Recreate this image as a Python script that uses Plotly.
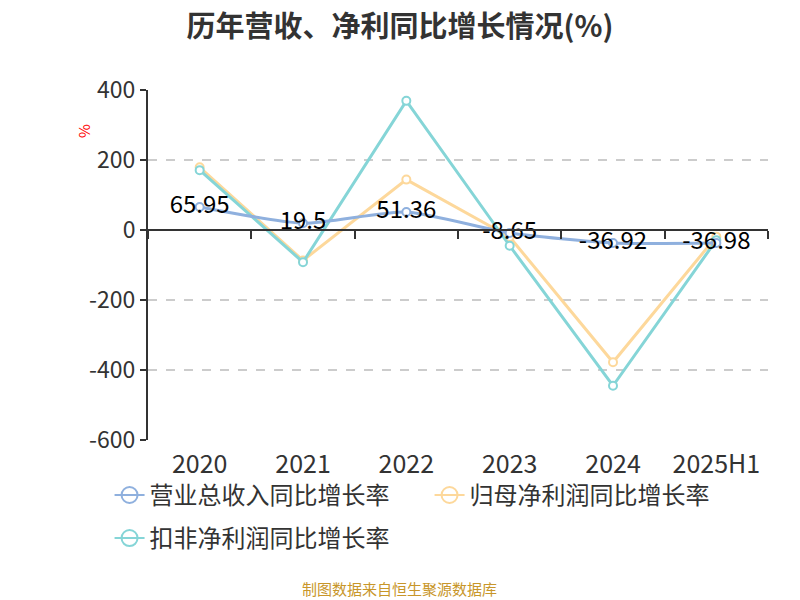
import plotly.graph_objects as go

# categories and series (% year over year)
years = ['2020', '2021', '2022', '2023', '2024', '2025H1']
revenue_growth = [65.95, 19.5, 51.36, -8.65, -36.92, -36.98]
net_profit_growth = [179, -87, 144, -20, -378, -19]
deducted_profit_growth = [171, -92, 369, -45, -445, -29]

series_names = ['营业总收入同比增长率', '归母净利润同比增长率', '扣非净利润同比增长率']
colors = ['#8fb0de', '#fdd89b', '#85d5d7']

y_ticks = [-600, -400, -200, 0, 200, 400]

CJK = 'Noto Sans CJK SC'

fig = go.Figure()

# net profit and deducted profit first so the revenue line sits on top
for vals, name, col in [(net_profit_growth, series_names[1], colors[1]),
                        (deducted_profit_growth, series_names[2], colors[2])]:
    fig.add_trace(go.Scatter(
        x=years, y=vals, mode='lines+markers', name=name,
        legendgroup=name, showlegend=False,
        line=dict(color=col, width=3),
        marker=dict(symbol='circle', size=8, color='white',
                    line=dict(color=col, width=2)),
    ))

fig.add_trace(go.Scatter(
    x=years, y=revenue_growth, mode='lines+markers+text', name=series_names[0],
    legendgroup=series_names[0], showlegend=False,
    line=dict(color=colors[0], width=3, shape='spline', smoothing=0.6),
    marker=dict(symbol='circle', size=8, color='white',
                line=dict(color=colors[0], width=2)),
    text=[f'{v:g}' for v in revenue_growth],
    textposition='middle center',
    textfont=dict(family=CJK, size=24, color='#000000'),
))

# legend-only entries with the bigger hollow circles (third one on its own row)
for i, (name, col) in enumerate(zip(series_names, colors)):
    fig.add_trace(go.Scatter(
        x=[None], y=[None], mode='lines+markers', name=name,
        legendgroup=name, legend='legend2' if i == 2 else 'legend',
        line=dict(color=col, width=2),
        marker=dict(symbol='circle-open', size=20, color=col,
                    line=dict(color=col, width=2)),
    ))

# axis line at zero with ticks between categories
fig.add_trace(go.Scatter(x=years, y=[None] * len(years), xaxis='x2',
                         showlegend=False, hoverinfo='skip'))

legend_style = dict(orientation='h', xanchor='left', yanchor='top',
                    font=dict(family=CJK, size=24, color='#333333'),
                    entrywidth=275, itemsizing='trace', bgcolor='rgba(0,0,0,0)')

# page body has an 8px margin, so the figure is drawn 8px smaller
fig.update_layout(
    width=792, height=592,
    paper_bgcolor='white', plot_bgcolor='white',
    margin=dict(l=140, r=32, t=82, b=160, autoexpand=False),
    title=dict(text='<b>历年营收、净利同比增长情况(%)</b>', x=0.495, xanchor='center',
               y=0.968, yanchor='middle',
               font=dict(family=CJK, size=29, color='#333333')),
    font=dict(family=CJK, color='#333333'),
    showlegend=True,
    legend=dict(x=-0.062, y=-0.094, **legend_style),
    legend2=dict(x=-0.062, y=-0.217, **legend_style),
    xaxis=dict(type='category', range=[-0.5, len(years) - 0.5],
               showline=False, showgrid=False, zeroline=False,
               ticks='', tickfont=dict(family=CJK, size=25, color='#333333'),
               ticklabelstandoff=7),
    xaxis2=dict(type='category', overlaying='x', matches='x', anchor='free',
                position=0.6, showline=True, linecolor='#333333', linewidth=2,
                ticks='outside', tickson='boundaries', ticklen=8, tickwidth=2,
                tickcolor='#333333', showticklabels=False, showgrid=False,
                side='bottom'),
    yaxis=dict(range=[-600, 400], tickvals=y_ticks,
               ticktext=[str(v) for v in y_ticks],
               showline=True, linecolor='#333333', linewidth=2,
               ticks='outside', ticklen=6, tickwidth=2, tickcolor='#333333',
               showgrid=True, gridcolor='#cccccc', griddash='dash', gridwidth=1.5,
               zeroline=False,
               tickfont=dict(family=CJK, size=23, color='#333333')),
    annotations=[
        dict(text='%', xref='paper', yref='paper', x=-0.123, y=0.909,
             showarrow=False, textangle=-90,
             font=dict(family=CJK, size=15, color='#ff0000')),
        dict(text='制图数据来自恒生聚源数据库', xref='paper', yref='paper',
             x=0.406, y=-0.423, showarrow=False, xanchor='center', yanchor='middle',
             font=dict(family=CJK, size=15, color='#c8962a')),
    ],
)

fig.write_html('out.html')
